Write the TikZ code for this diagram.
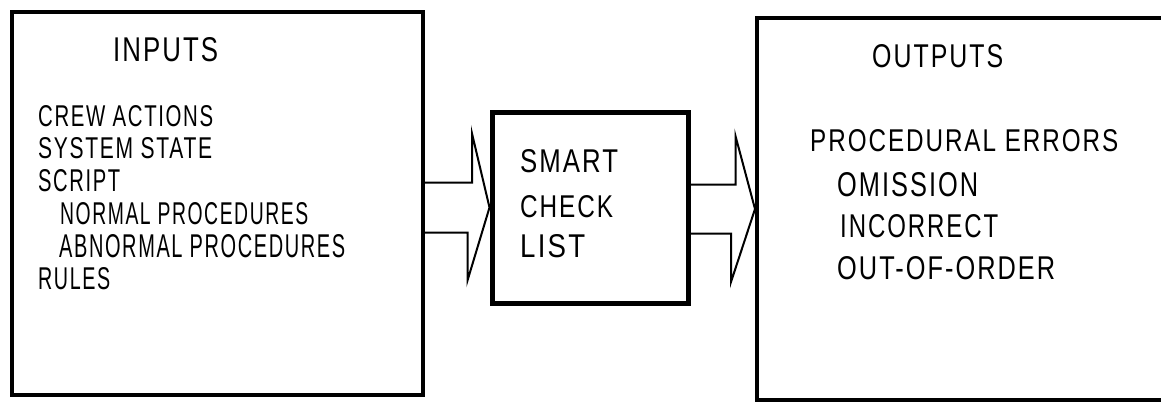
\documentclass[tikz,border=0pt]{standalone}
\usepackage{fontspec}
\setmainfont{Liberation Sans}[LetterSpace=8]
\usepackage{graphicx}
\usetikzlibrary{calc}
\newcommand\fittxt[3]{\resizebox{#1pt}{#2pt}{#3}}
\begin{document}
\begin{tikzpicture}[x=1pt,y=-1pt,
  box/.style={draw,line width=4pt,inner sep=0pt},
  lbl/.style={anchor=south west,inner sep=0pt},
  arr/.style={line width=2pt,line join=miter}]
\useasboundingbox (0,0) rectangle (1161,405);
\clip (0,0) rectangle (1161,405);
% boxes
\node[box,minimum width=411pt,minimum height=383pt] (in) at (217.5,203.5) {};
\node[box,line width=5pt,minimum width=196pt,minimum height=191pt] (mid) at (590,207.5) {};
\node[box,minimum width=423pt,minimum height=382pt] (out) at (968.5,209) {};
% texts
\node[lbl] (tin)   at (113,62)  {\fittxt{105}{24}{INPUTS}};
\node[lbl] (tcrew) at (38,127)  {\fittxt{175}{21}{CREW ACTIONS}};
\node[lbl] (tsys)  at (38,159)  {\fittxt{174}{21}{SYSTEM STATE}};
\node[lbl] (tscr)  at (38,192)  {\fittxt{82}{22}{SCRIPT}};
\node[lbl] (tnor)  at (60,225)  {\fittxt{248}{22}{NORMAL PROCEDURES}};
\node[lbl] (tabn)  at (59,258)  {\fittxt{286}{23}{ABNORMAL PROCEDURES}};
\node[lbl] (trul)  at (38,290)  {\fittxt{72}{22}{RULES}};
\node[lbl] (tsma)  at (520,173) {\fittxt{98}{23}{SMART}};
\node[lbl] (tche)  at (520,218) {\fittxt{93}{22}{CHECK}};
\node[lbl] (tlis)  at (520,258) {\fittxt{65}{23}{LIST}};
\node[lbl] (tout)  at (872,68)  {\fittxt{131}{23}{OUTPUTS}};
\node[lbl] (tpro)  at (810,152) {\fittxt{308}{22}{PROCEDURAL ERRORS}};
\node[lbl] (tomi)  at (837,197) {\fittxt{141}{24}{OMISSION}};
\node[lbl] (tinc)  at (840,238) {\fittxt{158}{23}{INCORRECT}};
\node[lbl] (tooo)  at (837,280) {\fittxt{218}{23}{OUT-OF-ORDER}};
% arrows
\coordinate (ls) at (in.east |- mid.west);
\draw[arr] ($(ls)+(0,-25)$) -- ++(47,0) -- ++(0,-49) -- (mid.west)
  -- ++(-22,73) -- ++(0,-48) -- ($(ls)+(0,25)$);
\coordinate (rs) at (mid.east |- out.west);
\draw[arr] ($(rs)+(0,-24.5)$) -- ++(45,0) -- ++(0,-48.5) -- (out.west)
  -- ++(-24,73) -- ++(0,-48.5) -- ($(rs)+(0,24.5)$);
\end{tikzpicture}
\end{document}
